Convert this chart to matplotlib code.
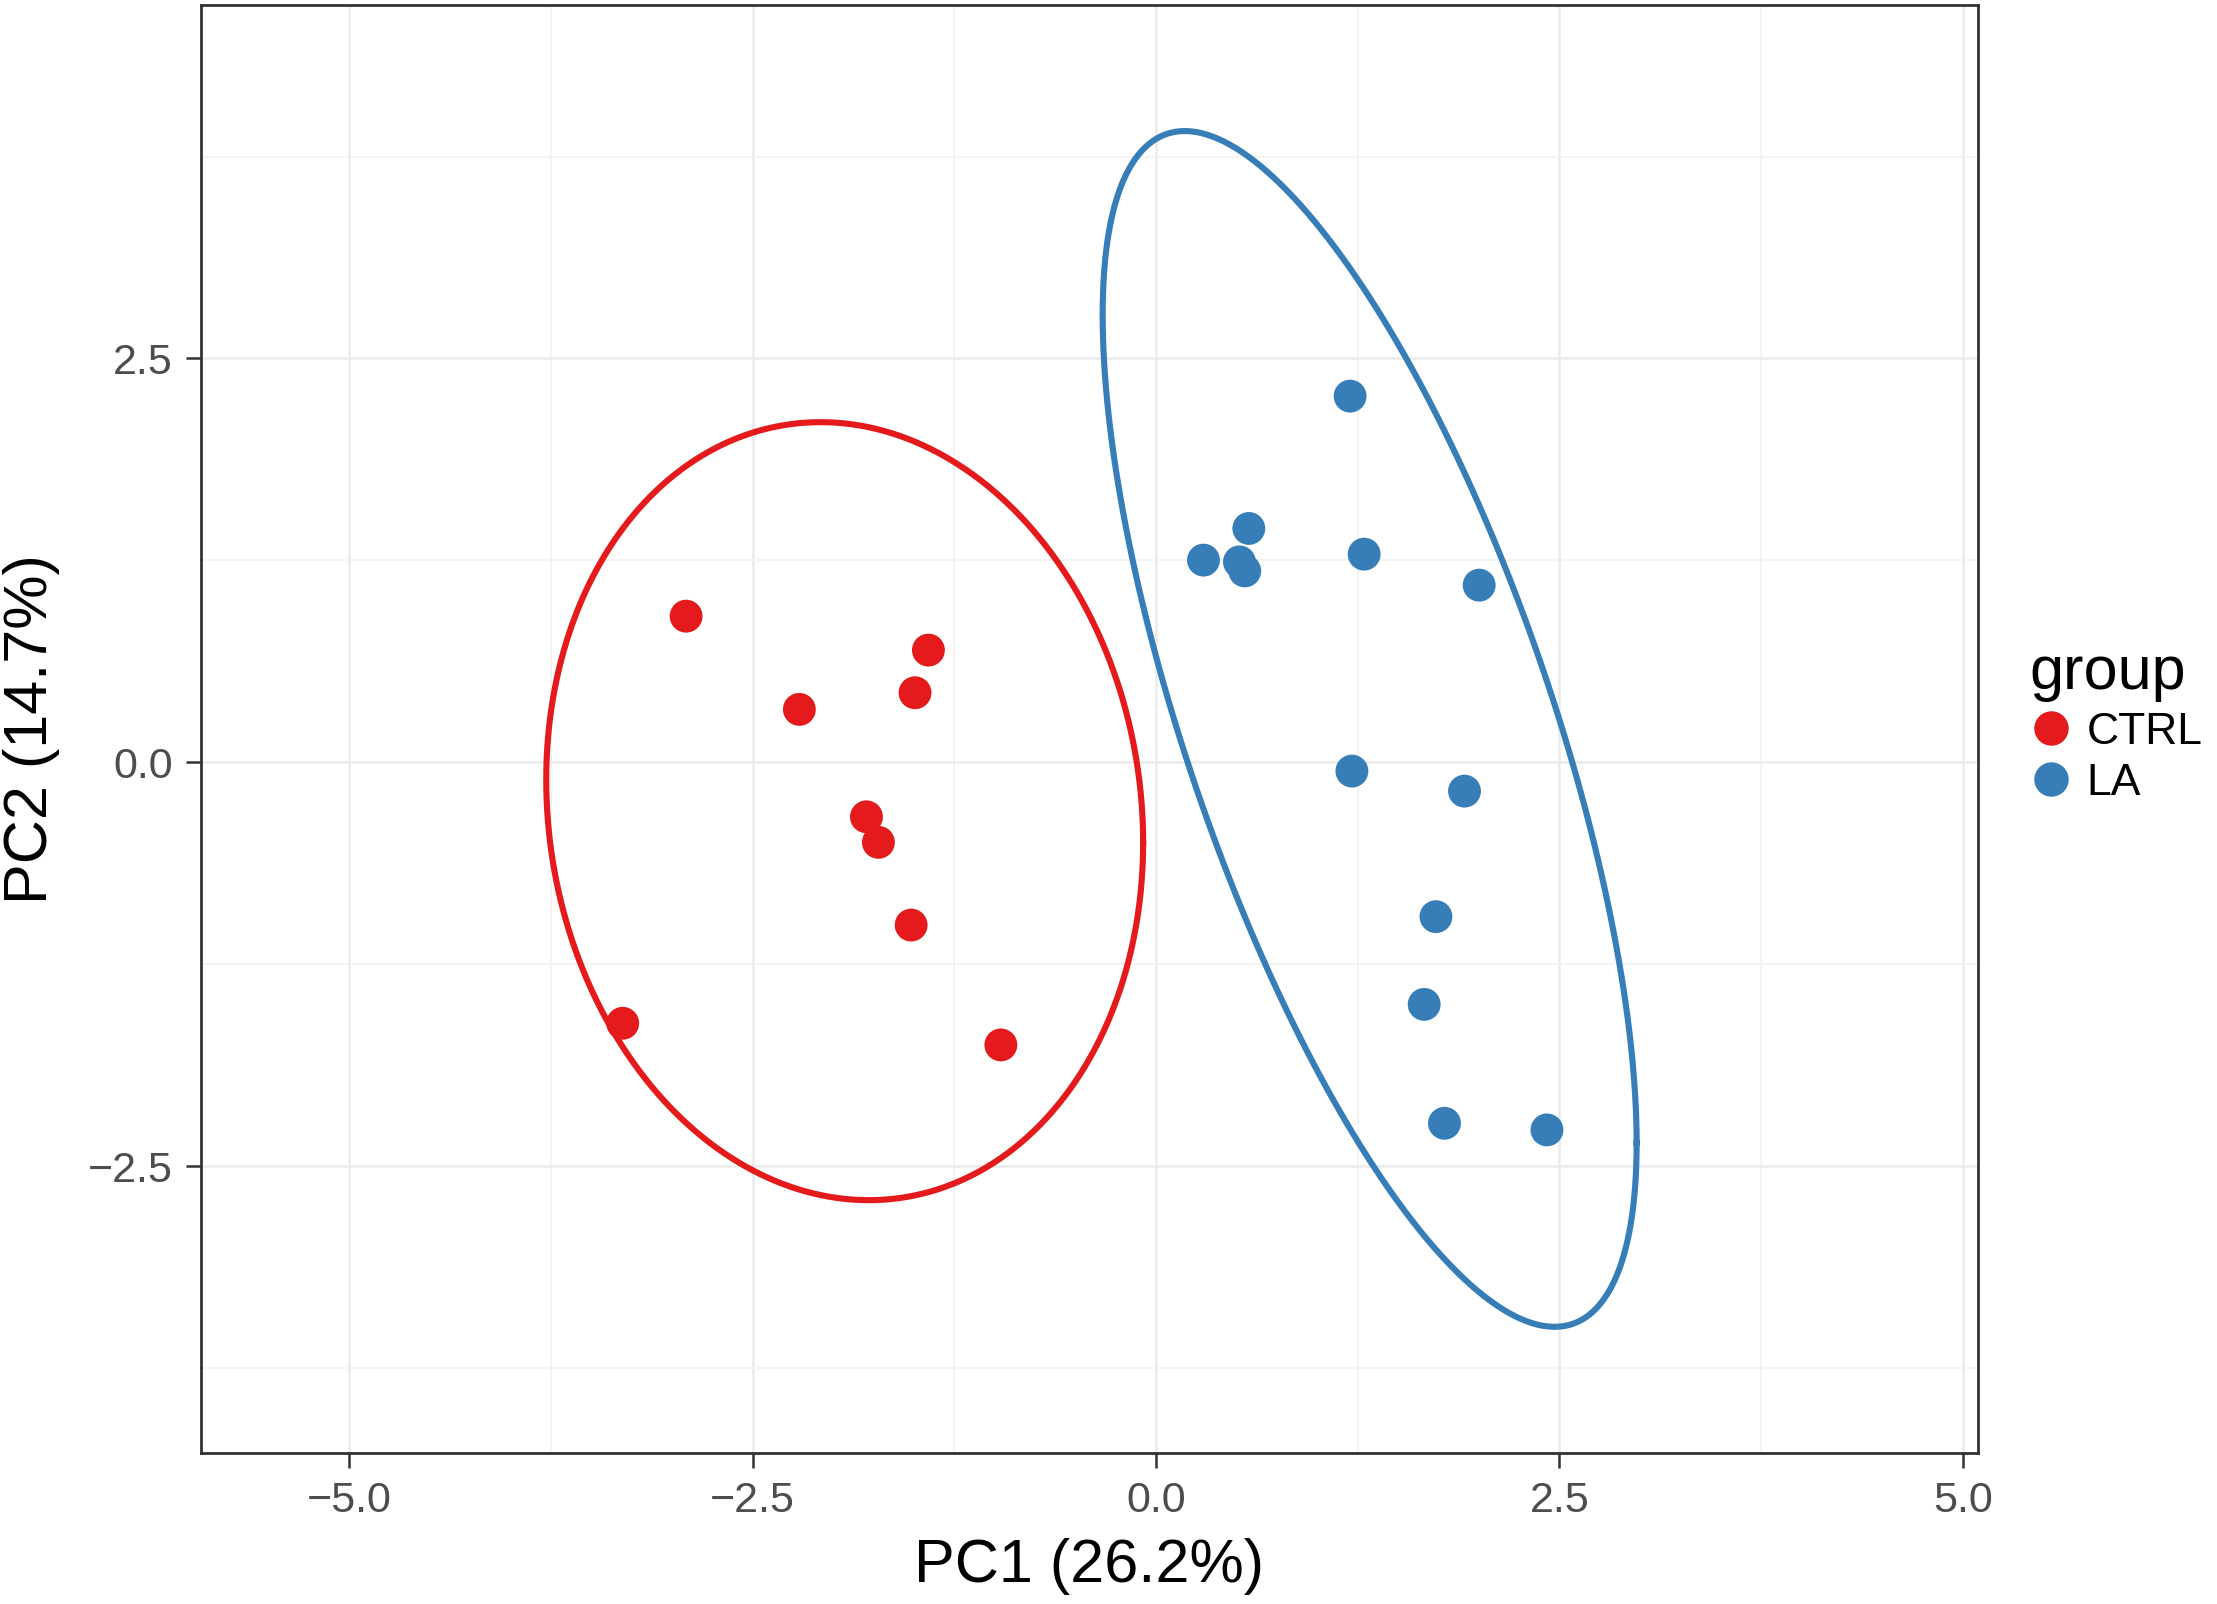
import numpy as np
import matplotlib
matplotlib.use("Agg")
import matplotlib.pyplot as plt
from matplotlib.lines import Line2D
from matplotlib.ticker import FixedLocator

plt.rcParams['font.family'] = ['Liberation Sans', 'DejaVu Sans']

# ---------------- data ----------------
groups = ["CTRL", "LA"]
group_colors = ["#E41A1C", "#377EB8"]

ctrl_pc1 = [-2.913, -1.411, -1.494, -2.211, -1.795, -1.721, -1.518, -3.306, -0.962]
ctrl_pc2 = [0.905, 0.695, 0.431, 0.328, -0.337, -0.495, -1.007, -1.615, -1.749]

la_pc1 = [1.203, 0.575, 0.294, 0.517, 0.550, 1.290, 2.003,
          1.214, 1.912, 1.735, 1.662, 1.788, 2.423]
la_pc2 = [2.267, 1.448, 1.252, 1.241, 1.185, 1.289, 1.097,
          -0.054, -0.178, -0.955, -1.498, -2.234, -2.275]

# 95% confidence ellipses as seen in the picture: centre and shape matrix
ctrl_ellipse_center = [-1.930, -0.302]
ctrl_ellipse_shape = [[3.4225, -0.360], [-0.360, 5.798]]
la_ellipse_center = [1.324, 0.207]
la_ellipse_shape = [[2.739, -4.241], [-4.241, 13.697]]

x_major = [-5.0, -2.5, 0.0, 2.5, 5.0]
x_minor = [-3.75, -1.25, 1.25, 3.75]
y_major = [-2.5, 0.0, 2.5]
y_minor = [-3.75, -1.25, 1.25, 3.75]
x_limits = [-5.92, 5.095]
y_limits = [-4.275, 4.69]

x_title = "PC1 (26.2%)"
y_title = "PC2 (14.7%)"
legend_title = "group"


def ellipse_path(center, shape, segments=240):
    ang = np.linspace(0, 2 * np.pi, segments + 1)
    circ = np.column_stack([np.cos(ang), np.sin(ang)])
    U = np.linalg.cholesky(np.asarray(shape)).T
    return np.asarray(center) + circ @ U


# ---------------- figure ----------------
W, H, DPI = 2217, 1604, 200
fig = plt.figure(figsize=(W / DPI, H / DPI), dpi=DPI)
fig.patch.set_facecolor("white")

L, R, T, B = 201, 1978, 4.7, 1453
ax = fig.add_axes([L / W, 1 - B / H, (R - L) / W, (B - T) / H])

ax.set_xlim(*x_limits)
ax.set_ylim(*y_limits)

ax.xaxis.set_major_locator(FixedLocator(x_major))
ax.xaxis.set_minor_locator(FixedLocator(x_minor))
ax.yaxis.set_major_locator(FixedLocator(y_major))
ax.yaxis.set_minor_locator(FixedLocator(y_minor))
ax.set_xticklabels([f"{v:.1f}".replace("-", "\u2212") for v in x_major])
ax.set_yticklabels([f"{v:.1f}".replace("-", "\u2212") for v in y_major])

ax.grid(which="major", color="#EBEBEB", linewidth=0.9, zorder=0)
ax.grid(which="minor", color="#F2F2F2", linewidth=0.6, zorder=0)
ax.set_axisbelow(True)

ax.tick_params(which="major", length=5.4, width=0.9, color="#333333",
               labelsize=15.5, labelcolor="#4D4D4D", pad=4.8)
ax.tick_params(which="minor", length=0)
for s in ax.spines.values():
    s.set_color("#333333")
    s.set_linewidth(1.0)

series = [(ctrl_pc1, ctrl_pc2), (la_pc1, la_pc2)]
ellipses = [(ctrl_ellipse_center, ctrl_ellipse_shape),
            (la_ellipse_center, la_ellipse_shape)]
for (c, sh), col in zip(ellipses, group_colors):
    ell = ellipse_path(c, sh)
    ax.plot(ell[:, 0], ell[:, 1], color=col, linewidth=2.2, zorder=3)
for (xs, ys), col, g in zip(series, group_colors, groups):
    ax.scatter(xs, ys, s=140, color=col, edgecolors="none", zorder=4, label=g)

ax.set_xlabel(x_title, fontsize=22, color="black", labelpad=6)
ax.set_ylabel(y_title, fontsize=22, color="black", labelpad=10)

handles = [Line2D([], [], linestyle="none", marker="o", markersize=12.4,
                  markerfacecolor=c, markeredgecolor="none") for c in group_colors]
leg = fig.legend(handles, groups, title=legend_title, loc="upper left",
                 bbox_to_anchor=(2029 / W, 1 - 645 / H), frameon=False,
                 fontsize=16, title_fontsize=22, handlelength=1.0,
                 handletextpad=0.3, labelspacing=0.22, borderpad=0.0,
                 borderaxespad=0.0)
leg._legend_box.align = "left"

fig.savefig("out.png", dpi=DPI, facecolor="white")
